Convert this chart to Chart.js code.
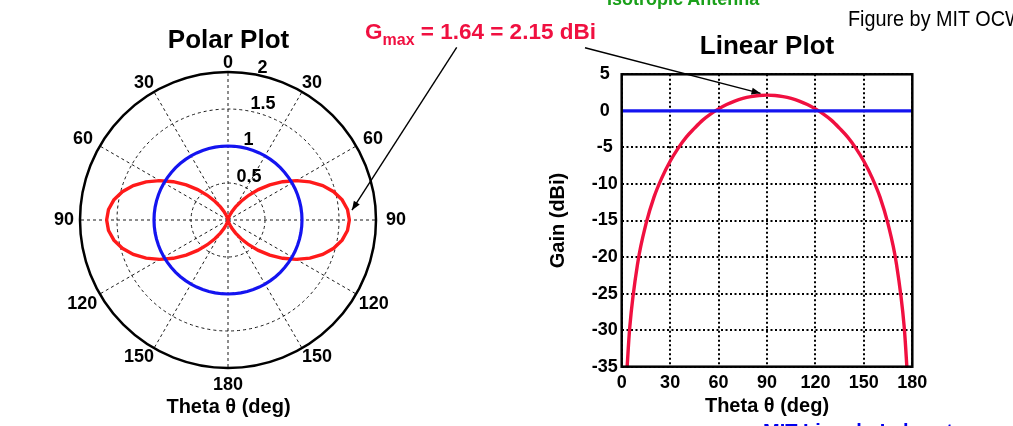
<!DOCTYPE html>
<html>
<head>
<meta charset="utf-8">
<script src="https://cdn.jsdelivr.net/npm/chart.js@4.4.1/dist/chart.umd.min.js"></script>
<style>
body { margin: 0; background: #fff; }
#page { position: relative; width: 1013px; height: 426px; overflow: hidden; font-family: "Liberation Sans", Arial, sans-serif; }
#polarChart { position: absolute; left: 0; top: 0; }
#linearChart { position: absolute; left: 540px; top: 0; }
#overlay { position: absolute; left: 0; top: 0; pointer-events: none; }
.note { position: absolute; white-space: nowrap; line-height: 1; }
</style>
</head>
<body>
<div id="page">
  <canvas id="polarChart" width="457" height="426"></canvas>
  <canvas id="linearChart" width="400" height="426"></canvas>
  <canvas id="overlay" width="1013" height="426"></canvas>
  <div class="note" style="left:607px;top:-10px;font-size:18px;font-weight:bold;color:#1aa01a;">Isotropic Antenna</div>
  <div class="note" style="left:848px;top:8px;font-size:22px;color:#000;transform:scaleX(0.9);transform-origin:left top;">Figure by MIT OCW</div>
  <div class="note" style="left:365px;top:21px;font-size:22.5px;font-weight:bold;color:#f01040;">G<span style="font-size:16px;position:relative;top:6px;">max</span> = 1.64 = 2.15 dBi</div>
  <div class="note" style="left:763px;top:421px;font-size:20px;font-weight:bold;color:#0000ee;">MIT Lincoln Laboratory</div>
</div>
<script>
// polar plot: theta 0..180 in 5 deg steps, gain (linear, relative to isotropic)
const thetaDeg = [0, 5, 10, 15, 20, 25, 30, 35, 40, 45, 50, 55, 60, 65, 70, 75, 80, 85, 90,
  95, 100, 105, 110, 115, 120, 125, 130, 135, 140, 145, 150, 155, 160, 165, 170, 175, 180];
const dipoleGain = [0, 0.001, 0.009, 0.028, 0.066, 0.124, 0.205, 0.310, 0.436, 0.580, 0.737, 0.902, 1.065, 1.221, 1.361, 1.478, 1.566, 1.621, 1.64,
  1.621, 1.566, 1.478, 1.361, 1.221, 1.065, 0.902, 0.737, 0.580, 0.436, 0.310, 0.205, 0.124, 0.066, 0.028, 0.009, 0.001, 0];
const isoGain = [1, 1, 1, 1, 1, 1, 1, 1, 1, 1, 1, 1, 1, 1, 1, 1, 1, 1, 1,
  1, 1, 1, 1, 1, 1, 1, 1, 1, 1, 1, 1, 1, 1, 1, 1, 1, 1];
const polarRingTicks = [0.5, 1, 1.5, 2];

// linear plot: gain in dBi
const linTheta = [3, 5, 10, 15, 20, 25, 30, 35, 40, 45, 50, 55, 60, 65, 70, 75, 80, 85, 90,
  95, 100, 105, 110, 115, 120, 125, 130, 135, 140, 145, 150, 155, 160, 165, 170, 175, 177];
const linGainDbi = [-36.3, -29.6, -20.7, -15.5, -11.8, -9.1, -6.9, -5.1, -3.6, -2.4, -1.3, -0.45, 0.27, 0.87, 1.34, 1.70, 1.95, 2.10, 2.15,
  2.10, 1.95, 1.70, 1.34, 0.87, 0.27, -0.45, -1.3, -2.4, -3.6, -5.1, -6.9, -9.1, -11.8, -15.5, -20.7, -29.6, -36.3];
const isoTheta = [0, 180];
const isoDbi = [0, 0];

const FONT = '"Liberation Sans", Arial, sans-serif';
const RED_POLAR = '#ff1a1a';
const RED_LIN = '#f01040';
const BLUE = '#1414f0';

// radar spokes go clockwise: right half 0..180, then left half back up to 5
const spokeTheta = thetaDeg.concat(thetaDeg.slice(1, -1).reverse());
const spokeDipole = dipoleGain.concat(dipoleGain.slice(1, -1).reverse());
const spokeIso = isoGain.concat(isoGain.slice(1, -1).reverse());

const polarTicksPlugin = {
    id: 'polarTicks',
    afterDraw(chart) {
        const r = chart.scales.r;
        const ctx = chart.ctx;
        const a = 11 * Math.PI / 180;
        ctx.save();
        ctx.font = 'bold 18px ' + FONT;
        ctx.fillStyle = '#000';
        ctx.textAlign = 'left';
        ctx.textBaseline = 'middle';
        polarRingTicks.forEach(v => {
            const d = r.getDistanceFromCenterForValue(v) + 7;
            ctx.fillText(String(v), r.xCenter + d * Math.sin(a), r.yCenter - d * Math.cos(a));
        });
        ctx.restore();
    }
};

const polarChart = new Chart(document.getElementById('polarChart'), {
    type: 'radar',
    data: {
        labels: spokeTheta,
        datasets: [
            { data: spokeIso, borderColor: BLUE, borderWidth: 3.2, fill: false, pointRadius: 0 },
            { data: spokeDipole, borderColor: RED_POLAR, borderWidth: 3.4, fill: false, pointRadius: 0 }
        ]
    },
    options: {
        responsive: false,
        animation: false,
        elements: { line: { tension: 0 } },
        plugins: {
            legend: { display: false },
            tooltip: { enabled: false },
            title: {
                display: true,
                text: 'Polar Plot',
                color: '#000',
                font: { family: FONT, size: 26, weight: 'bold', lineHeight: 1 },
                padding: { top: 28, bottom: -4 }
            },
            subtitle: {
                display: true,
                position: 'bottom',
                text: 'Theta θ (deg)',
                color: '#000',
                font: { family: FONT, size: 20, weight: 'bold', lineHeight: 1 },
                padding: { top: -1, bottom: 9 }
            }
        },
        scales: {
            r: {
                min: 0,
                max: 2,
                ticks: { stepSize: 0.5, display: false },
                grid: {
                    circular: true,
                    color: '#000',
                    lineWidth: c => c.tick && c.tick.value === 2 ? 2.5 : 0.9
                },
                border: {
                    dash: c => c.tick && c.tick.value === 2 ? [] : [3, 3]
                },
                angleLines: {
                    color: c => spokeTheta[c.index] % 30 === 0 ? '#000' : 'rgba(0,0,0,0)',
                    lineWidth: 0.9,
                    borderDash: [3, 3]
                },
                pointLabels: {
                    callback: (label) => label % 30 === 0 ? String(label) : '',
                    color: '#000',
                    font: c => ({
                        family: FONT, size: 18, weight: 'bold',
                        lineHeight: spokeTheta[c.index] === 60 ? 0.3 : 1
                    }),
                    padding: c => {
                        const t = spokeTheta[c.index];
                        if (t === 180) return 8;
                        if (t === 90) return c.index < 36 ? 10 : 6;
                        if (t === 60) return 8;
                        if (t === 120) return 3;
                        return 0;
                    }
                }
            }
        }
    },
    plugins: [polarTicksPlugin]
});

const framePlugin = {
    id: 'frame',
    afterDatasetsDraw(chart) {
        const { ctx, chartArea: a } = chart;
        ctx.save();
        ctx.strokeStyle = '#000';
        ctx.lineWidth = 2.5;
        ctx.strokeRect(a.left, a.top, a.right - a.left, a.bottom - a.top);
        ctx.restore();
    }
};

const tickFont = { family: FONT, size: 18, weight: 'bold' };
const axisTitleFont = { family: FONT, size: 20, weight: 'bold' };

const linearChart = new Chart(document.getElementById('linearChart'), {
    type: 'scatter',
    data: {
        datasets: [
            {
                data: isoTheta.map((t, i) => ({ x: t, y: isoDbi[i] })),
                showLine: true, borderColor: BLUE, borderWidth: 3.2, pointRadius: 0
            },
            {
                data: linTheta.map((t, i) => ({ x: t, y: linGainDbi[i] })),
                showLine: true, borderColor: RED_LIN, borderWidth: 3.4, pointRadius: 0,
                cubicInterpolationMode: 'monotone'
            }
        ]
    },
    options: {
        responsive: false,
        animation: false,
        layout: { padding: { left: 0, right: 27.7, top: 0, bottom: 0 } },
        plugins: {
            legend: { display: false },
            tooltip: { enabled: false },
            title: {
                display: true,
                text: 'Linear Plot',
                fullSize: false,
                color: '#000',
                font: { family: FONT, size: 26, weight: 'bold', lineHeight: 1.2 },
                padding: { top: 31.4, bottom: 11.7 }
            }
        },
        scales: {
            x: {
                type: 'linear',
                min: 0,
                max: 180,
                ticks: { stepSize: 30, color: '#000', font: tickFont, padding: 6, maxRotation: 0 },
                grid: { color: '#000', lineWidth: 2, drawTicks: false },
                border: { display: false, dash: [2, 2.5] },
                title: { display: true, text: 'Theta θ (deg)', color: '#000', font: axisTitleFont, padding: { top: 0, bottom: 8 } },
                afterFit: s => { s.height = 59.3; }
            },
            y: {
                min: -35,
                max: 5,
                ticks: { stepSize: 5, color: '#000', font: tickFont, padding: 4, crossAlign: 'center' },
                grid: { color: '#000', lineWidth: 2, drawTicks: false },
                border: { display: false, dash: [2, 2.5] },
                title: { display: true, text: 'Gain (dBi)', color: '#000', font: axisTitleFont, padding: { top: 6, bottom: 0 } },
                afterFit: s => { s.width = 81.7; }
            }
        }
    },
    plugins: [framePlugin]
});

// arrows from the Gmax note to the maximum of each plot
function drawArrow(ctx, x1, y1, x2, y2) {
    const ang = Math.atan2(y2 - y1, x2 - x1);
    ctx.beginPath();
    ctx.moveTo(x1, y1);
    ctx.lineTo(x2, y2);
    ctx.stroke();
    ctx.beginPath();
    ctx.moveTo(x2, y2);
    ctx.lineTo(x2 - 9 * Math.cos(ang) + 3.5 * Math.sin(ang), y2 - 9 * Math.sin(ang) - 3.5 * Math.cos(ang));
    ctx.lineTo(x2 - 9 * Math.cos(ang) - 3.5 * Math.sin(ang), y2 - 9 * Math.sin(ang) + 3.5 * Math.cos(ang));
    ctx.closePath();
    ctx.fill();
}

const octx = document.getElementById('overlay').getContext('2d');
octx.strokeStyle = '#000';
octx.fillStyle = '#000';
octx.lineWidth = 1.4;
const polarTip = polarChart.scales.r.getPointPositionForValue(17.1, 1.68);
drawArrow(octx, 456.7, 47.3, polarTip.x, polarTip.y);
const linLeft = 540;
drawArrow(octx, 585, 47.7,
    linLeft + linearChart.scales.x.getPixelForValue(86),
    linearChart.scales.y.getPixelForValue(2.4));
</script>
</body>
</html>
